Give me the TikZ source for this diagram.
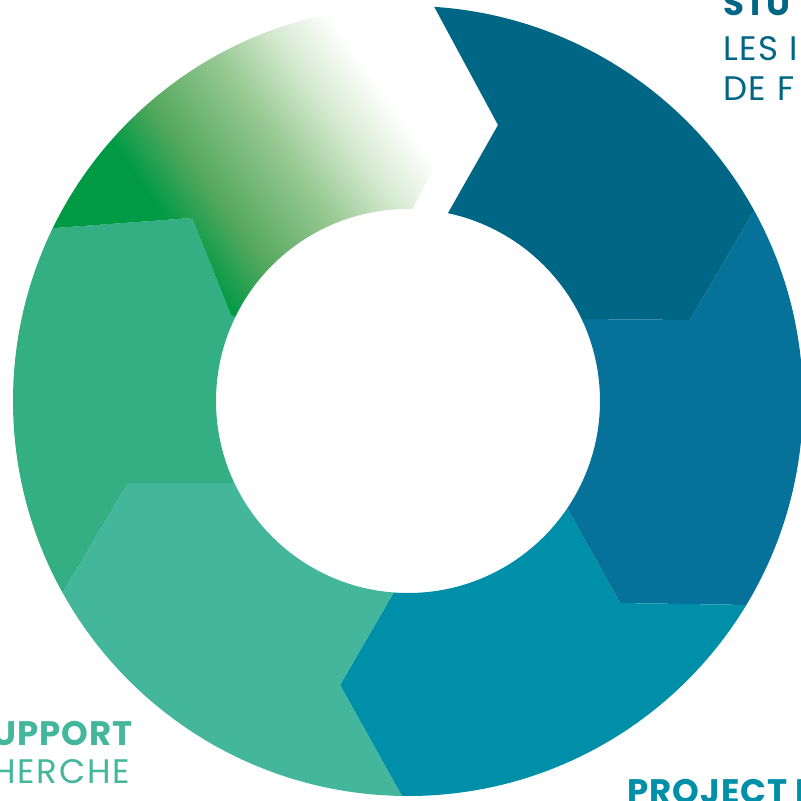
\documentclass[tikz,border=0pt]{standalone}
\usepackage{fontspec}
\setmainfont{Poppins}
\usepackage{xcolor}
\usetikzlibrary{calc}

\definecolor{tealdark}{RGB}{0,102,133}
\definecolor{bluemid}{RGB}{6,114,153}
\definecolor{cyanmid}{RGB}{0,143,168}
\definecolor{greenlight}{RGB}{68,182,156}
\definecolor{greenmid}{RGB}{52,175,132}
\definecolor{greendeep}{RGB}{0,154,68}
\definecolor{greenhalf}{RGB}{85,168,95}
\definecolor{greenpale}{RGB}{150,200,145}
\definecolor{greenmist}{RGB}{215,234,210}

\pgfdeclarehorizontalshading{greenfade}{100bp}{color(0bp)=(greendeep); color(44bp)=(greendeep);
  color(47.5bp)=(greenhalf); color(52.5bp)=(greenpale); color(56.5bp)=(greenmist);
  color(60bp)=(white); color(100bp)=(white)}

\tikzset{
  title/.style={font=\bfseries\fontsize{34}{40}\selectfont\addfontfeature{LetterSpace=3}, inner sep=0pt},
  subtitle/.style={font=\fontsize{34}{40}\selectfont\addfontfeature{LetterSpace=5}, inner sep=0pt}
}

% one piece of the ring, between two chevron borders
\newcommand{\ringpart}[4]{%
  \begin{scope}
    \clip ($(#2a)!1.6!(#2o)$) -- (#2o) -- (#2a) -- (#2i) -- (C) -- (#3i) -- (#3a) -- (#3o)
      -- ($(#3a)!1.6!(#3o)$) -- ($(C)+(#4:800)$) -- cycle;
    \path[#1, even odd rule] (C) circle[radius=395] (C) circle[radius=192];
  \end{scope}}

\begin{document}
\begin{tikzpicture}[x=1pt, y=-1pt]
        \useasboundingbox (0,0) rectangle (801,801);
        \coordinate (C) at (408,401);

        % chevron borders: outer, apex, inner
        \coordinate (nto) at (437,12);  \coordinate (nta) at (498,125); \coordinate (nti) at (448,213);
        \coordinate (neo) at (754,211); \coordinate (nea) at (690,320); \coordinate (nei) at (582,319);
        \coordinate (seo) at (749,605); \coordinate (sea) at (620,603); \coordinate (sei) at (567,508);
        \coordinate (so) at (403,798);  \coordinate (sa) at (340,685);  \coordinate (si) at (394,592);
        \coordinate (swo) at (63,592);  \coordinate (swa) at (128,483); \coordinate (swi) at (232,483);
        \coordinate (nwo) at (55,228);  \coordinate (nwa) at (192,218); \coordinate (nwi) at (231,315);
        \coordinate (ngo) at (390,8);   \coordinate (nga) at (453,130); \coordinate (ngi) at (413,208);

        \ringpart{fill=tealdark}{nt}{ne}{-60}
        \ringpart{fill=bluemid}{ne}{se}{0}
        \ringpart{fill=cyanmid}{se}{s}{60}
        \ringpart{fill=greenlight}{s}{sw}{120}
        \ringpart{fill=greenmid}{sw}{nw}{180}
        \ringpart{shade, shading=greenfade, shading angle=35}{nw}{ng}{-120}

        \node[title, text=tealdark, anchor=base west] (stu) at (723,15) {STU};
        \node[subtitle, text=tealdark, anchor=base west] (les) at (723,60) {LES I};
        \node[subtitle, text=tealdark, anchor=base west] (def) at (723,100) {DE F};
        \node[title, text=cyanmid, anchor=base west] (project) at (627,803) {PROJECT I};
        \node[title, text=greenlight, anchor=base east] (support) at (133,745) {UPPORT};
        \node[subtitle, text=greenlight, anchor=base east] (recherche) at (130,783) {HERCHE};
\end{tikzpicture}
\end{document}
